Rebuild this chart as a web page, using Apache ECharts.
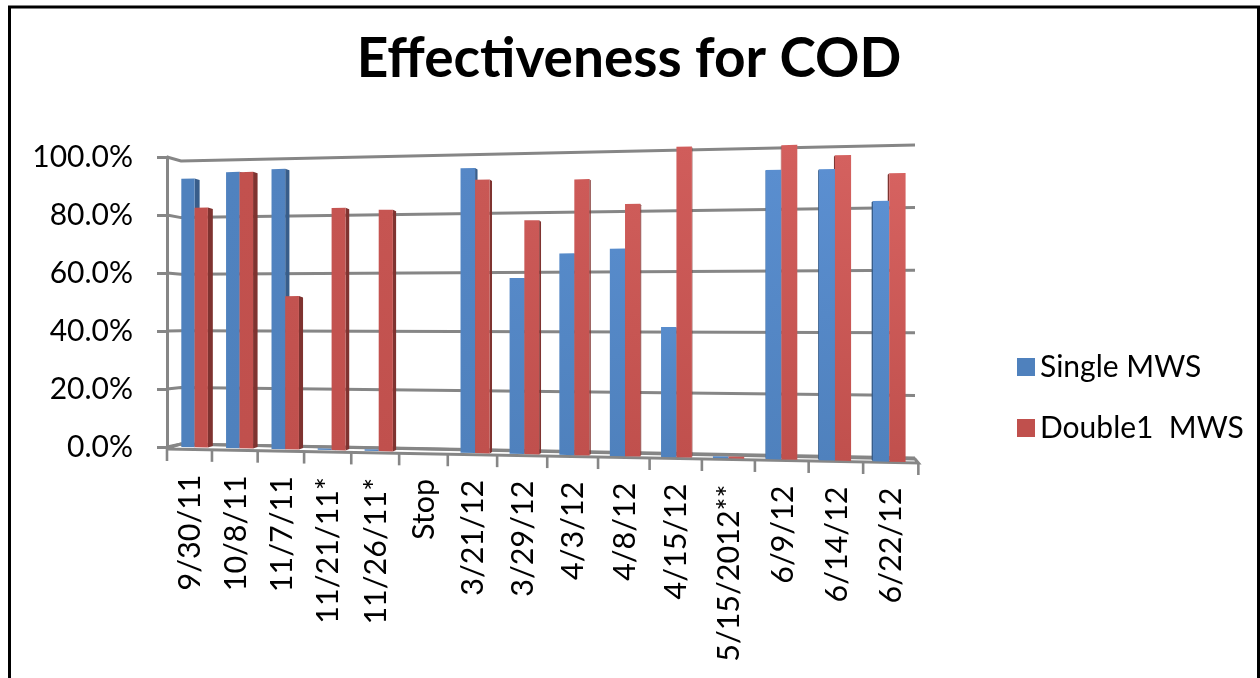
<!DOCTYPE html>
<html style="height:100%;width:100%;">

<head>
  <meta charset="utf-8">
  <title>Effectiveness for COD</title>
  <script src="https://cdn.jsdelivr.net/npm/echarts@6/dist/echarts.min.js"></script>
</head>

<body style="margin:0px;height:100%;width:100%;background:#fff;">
  <div id="main" style="width:1260px;height:678px"></div>
  <script type="text/javascript">
    var categories = ['9/30/11', '10/8/11', '11/7/11', '11/21/11*', '11/26/11*', 'Stop', '3/21/12', '3/29/12',
      '4/3/12', '4/8/12', '4/15/12', '5/15/2012**', '6/9/12', '6/14/12', '6/22/12'];
    var singleMws = [93.1, 95.1, 95.8, 0.5, 0.5, null, 94.7, 58.1, 66.1, 67.5, 42.0, 0.6, 92.1, 92.0, 81.7];
    var doubleMws = [83.0, 95.0, 52.3, 82.2, 81.3, null, 90.8, 77.1, 90.3, 82.0, 100.2, 0.6, 99.9, 96.3, 90.3];
    var yTicks = [0, 20, 40, 60, 80, 100];

    var FONT = 'Lato';
    var LEFT = 167, RIGHT = 918, TOP = 157, BOTTOM = 447;
    var GRAY = '#868686';

    var myChart = echarts.init(document.getElementById('main'));

    // the picture is an excel 3d chart, so flat axis coords get bent afterwards
    function bendX(flatX) {
      var u = (flatX - LEFT) / (RIGHT - LEFT) * categories.length;
      return LEFT + 44.6 * u + 0.366 * u * u;
    }
    function flatEdge(api, i, frac) {
      var size = api.size([1, 0])[0];
      return api.coord([i, 0])[0] + (frac - 0.5) * size;
    }
    function fracOf(flatY) {
      return (BOTTOM - flatY) / (BOTTOM - TOP);
    }
    function wallY(x, f) {
      var t = (x - 181) / 734;
      return (444 - 283 * f) * (1 - t) + (458 - 313 * f) * t;
    }
    function barY(x, f) {
      var t = (x - 181) / 724;
      return 447 + 15 * t - (288 + 32 * t) * f;
    }
    function floorY(x) {
      return 449 + (x - LEFT) / (RIGHT - LEFT) * 14;
    }

    function barRender(slot, baseColor, lightColor, sideColor) {
      return function(params, api) {
        var i = api.value(0), v = api.value(1);
        if (isNaN(v)) return;
        var f = fracOf(api.coord([i, v])[1]);
        var start = 0.32 - 0.14 * i / 14 + slot * 0.295;
        var x0 = bendX(flatEdge(api, i, start));
        var x1 = bendX(flatEdge(api, i, start + 0.295));
        var lit = echarts.color.lerp(i / 14, [baseColor, lightColor]);
        // side face flips from right to left once the bar passes the view centre
        var s = 5.2 * (1 - (x1 - 180) / 560);
        var edge = s > 0 ? x1 : x0;
        return {
          type: 'group',
          children: [{
            type: 'polygon',
            z2: 1,
            shape: { points: [[edge, barY(edge, f)], [edge + s, barY(edge, f) + 1.5], [edge + s, barY(edge, 0) - 1.5], [edge, barY(edge, 0)]] },
            style: { fill: sideColor }
          }, {
            type: 'polygon',
            z2: 2,
            shape: { points: [[x0, barY(x0, f)], [x1, barY(x1, f)], [x1, barY(x1, 0)], [x0, barY(x0, 0)]] },
            style: {
              fill: new echarts.graphic.LinearGradient(0, 0, 0, 1, [
                { offset: 0, color: lit },
                { offset: 1, color: baseColor }
              ])
            }
          }]
        };
      };
    }

    function gridRender(params, api) {
      var f = fracOf(api.coord([0, api.value(0)])[1]);
      return {
        type: 'polyline',
        z2: 0,
        shape: { points: [[LEFT, TOP + (1 - f) * (BOTTOM - TOP)], [181, wallY(181, f)], [915, wallY(915, f)]] },
        style: { stroke: GRAY, lineWidth: 3, fill: null }
      };
    }

    function floorRender(params, api) {
      var i = api.value(0);
      var x = bendX(flatEdge(api, i, 0));
      var children = [{
        type: 'line',
        z2: 0,
        shape: { x1: x, y1: floorY(x), x2: x, y2: floorY(x) + 12 },
        style: { stroke: GRAY, lineWidth: 2.6 }
      }];
      if (i === categories.length - 1) {
        var xEnd = bendX(flatEdge(api, i, 1));
        children.push({
          type: 'line',
          z2: 0,
          shape: { x1: xEnd, y1: floorY(xEnd), x2: xEnd, y2: floorY(xEnd) + 12 },
          style: { stroke: GRAY, lineWidth: 2.6 }
        });
        children.push({
          type: 'polyline',
          z2: 0,
          shape: { points: [[LEFT, BOTTOM + 1], [181, 444], [915, 459], [xEnd, floorY(xEnd)], [LEFT, floorY(LEFT)]] },
          style: { stroke: GRAY, lineWidth: 3, fill: null }
        });
      }
      var mid = bendX(flatEdge(api, i, 0.5)) + 1;
      children.push({
        type: 'text',
        x: mid,
        y: floorY(mid) + 25,
        rotation: Math.PI / 2,
        style: {
          text: categories[i],
          font: '30.5px ' + FONT,
          fill: '#000',
          align: 'right',
          verticalAlign: 'middle'
        }
      });
      return { type: 'group', children: children };
    }

    var option = {
      animation: false,
      backgroundColor: '#fff',
      title: {
        text: 'Effectiveness for COD',
        left: 624,
        top: 27,
        textAlign: 'center',
        textStyle: { fontFamily: FONT, fontWeight: 'bold', fontSize: 55, color: '#000' }
      },
      legend: {
        data: ['Single MWS', 'Double1  MWS'],
        orient: 'vertical',
        left: 1012,
        top: 347,
        itemWidth: 18,
        itemHeight: 18,
        itemGap: 31,
        icon: 'rect',
        textStyle: { fontFamily: FONT, fontSize: 30, color: '#000' }
      },
      grid: { left: LEFT, top: TOP, width: RIGHT - LEFT, height: BOTTOM - TOP },
      xAxis: {
        type: 'category',
        data: categories,
        axisLine: { show: false },
        axisTick: { show: false },
        axisLabel: { show: false }
      },
      yAxis: {
        type: 'value',
        min: 0,
        max: 100,
        interval: 20,
        axisLine: { show: true, lineStyle: { color: GRAY, width: 3 } },
        axisTick: { show: true, length: 10, lineStyle: { color: GRAY, width: 3 } },
        axisLabel: {
          margin: 34,
          fontFamily: FONT,
          fontSize: 30,
          color: '#000',
          padding: [7, 0, 0, 0],
          formatter: function(v) { return v.toFixed(1) + '%'; }
        },
        splitLine: { show: false }
      },
      graphic: [{
        type: 'rect',
        silent: true,
        shape: { x: 9.5, y: 7, width: 1249, height: 800 },
        style: { fill: null, stroke: '#000', lineWidth: 3 }
      }],
      series: [{
        name: 'walls',
        type: 'custom',
        coordinateSystem: 'cartesian2d',
        silent: true,
        renderItem: gridRender,
        encode: { y: 0 },
        data: yTicks.map(function(t) { return [t]; })
      }, {
        name: 'floor',
        type: 'custom',
        coordinateSystem: 'cartesian2d',
        silent: true,
        renderItem: floorRender,
        encode: { x: 0 },
        data: categories.map(function(c, i) { return [i]; })
      }, {
        name: 'Single MWS',
        type: 'custom',
        coordinateSystem: 'cartesian2d',
        itemStyle: { color: '#4F81BD' },
        renderItem: barRender(0, '#4F81BD', '#5C90D2', '#385D8A'),
        encode: { x: 0, y: 1 },
        data: singleMws.map(function(v, i) { return [i, v]; })
      }, {
        name: 'Double1  MWS',
        type: 'custom',
        coordinateSystem: 'cartesian2d',
        itemStyle: { color: '#C0504D' },
        renderItem: barRender(1, '#C0504D', '#D66260', '#7F3330'),
        encode: { x: 0, y: 1 },
        data: doubleMws.map(function(v, i) { return [i, v]; })
      }]
    };

    myChart.setOption(option);
  </script>
</body>

</html>
